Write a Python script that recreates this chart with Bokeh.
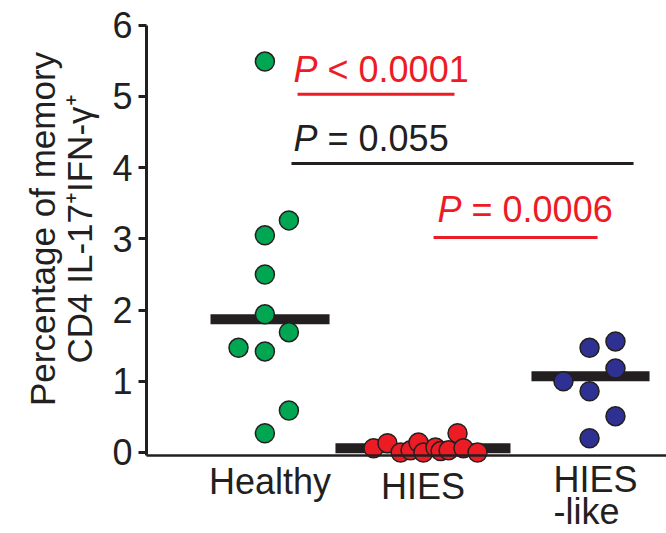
from math import pi
from bokeh.plotting import figure
from bokeh.models import Range1d, FixedTicker, LinearAxis
from bokeh.core.properties import value
from bokeh.embed import file_html
from bokeh.resources import INLINE

# ---- data ----
categories = ["Healthy", "HIES", "HIES\n-like"]
category_x = [0.772, 1.728, 2.544]
category_align = ["center", "center", "left"]
category_y = [-0.408, -0.478, -0.38]
category_line_step = 0.45

healthy_x = [0.74, 0.89, 0.74, 0.74, 0.74, 0.89, 0.575, 0.74, 0.89, 0.74]
healthy_y = [5.49, 3.26, 3.05, 2.50, 1.94, 1.69, 1.47, 1.42, 0.59, 0.27]

hies_x = [1.419, 1.506, 1.588, 1.65, 1.70, 1.731, 1.806, 1.838, 1.888, 1.944, 1.981, 2.069]
hies_y = [0.06, 0.13, 0.0, 0.03, 0.14, 0.0, 0.07, 0.02, 0.03, 0.27, 0.06, 0.0]

like_x = [2.769, 2.931, 2.931, 2.606, 2.769, 2.931, 2.769]
like_y = [1.47, 1.56, 1.18, 1.00, 0.86, 0.51, 0.20]

median_center = [0.772, 1.728, 2.775]
median_half = [0.372, 0.547, 0.369]
median_value = [1.87, 0.06, 1.07]

comp_x0 = [0.944, 0.906, 1.794]
comp_x1 = [1.925, 3.044, 2.819]
comp_y = [5.03, 4.06, 3.02]
comp_text = ["< 0.0001", "= 0.055", "= 0.0006"]
comp_text_x = [0.919, 0.919, 1.819]
comp_text_y = [5.376, 4.406, 3.416]
comp_color = ["#ed1c24", "#231f20", "#ed1c24"]

y_ticks = [0, 1, 2, 3, 4, 5, 6]
y_label_lines = ["Percentage of memory", "CD4 IL-17\u207aIFN-\u03b3\u207a"]
y_label_x = [-0.65, -0.42]
y_label_y = 3.139

INK = "#231f20"
FONT = "Liberation Sans"

p = figure(width=666, height=533, output_backend="svg", toolbar_location=None,
           x_range=Range1d(-0.9125, 3.25), y_range=Range1d(-1.1376, 6.348),
           x_axis_location=None, y_axis_location=None,
           min_border=0, min_border_left=0, min_border_right=0,
           min_border_top=0, min_border_bottom=0)
p.outline_line_color = None
p.grid.grid_line_color = None
p.background_fill_color = "white"
p.border_fill_color = "white"

# y axis (library axis, pinned at x = 0, spanning 0..6)
yax = LinearAxis(ticker=FixedTicker(ticks=y_ticks), fixed_location=0.0, bounds=(-0.04, 6))
yax.axis_line_width = 3
yax.axis_line_color = INK
yax.major_tick_line_width = 3
yax.major_tick_line_color = INK
yax.major_tick_out = 8
yax.major_tick_in = 0
yax.minor_tick_line_color = None
yax.major_label_text_font = FONT
yax.major_label_text_font_size = "36px"
yax.major_label_text_color = INK
yax.major_label_standoff = 6
p.add_layout(yax, "left")

# x axis (library axis, pinned at the base of the y axis)
xax = LinearAxis(ticker=FixedTicker(ticks=[]), fixed_location=-0.04, bounds=(0, 3.25))
xax.axis_line_width = 2.5
xax.axis_line_color = INK
xax.major_tick_line_color = None
xax.minor_tick_line_color = None
xax.major_label_text_alpha = 0
p.add_layout(xax, "below")

# median bars
p.segment(x0=[c - h for c, h in zip(median_center, median_half)],
          x1=[c + h for c, h in zip(median_center, median_half)],
          y0=median_value, y1=median_value, line_width=10, line_color=INK, line_cap="butt")

# points
for xs, ys, col in [(healthy_x, healthy_y, "#00a651"),
                    (hies_x, hies_y, "#ed1c24"),
                    (like_x, like_y, "#2e3192")]:
    p.scatter(x=xs, y=ys, marker="circle", size=19, fill_color=col,
              line_color=INK, line_width=1.5)

# comparison lines and P texts
p.segment(x0=comp_x0, x1=comp_x1, y0=comp_y, y1=comp_y, line_width=3, line_color=comp_color)
p.text(x=comp_text_x, y=comp_text_y, text=["P"] * 3, text_color=comp_color,
       text_font=value(FONT), text_font_size="36px", text_font_style="italic",
       text_align="left", text_baseline="alphabetic")
p.text(x=comp_text_x, y=comp_text_y, text=comp_text, text_color=comp_color, x_offset=34,
       text_font=value(FONT), text_font_size="36px",
       text_align="left", text_baseline="alphabetic")

# category labels (one text per line)
lab_x, lab_y, lab_t, lab_a = [], [], [], []
for lab, cx, cy, al in zip(categories, category_x, category_y, category_align):
    for i, line in enumerate(lab.split("\n")):
        lab_x.append(cx)
        lab_y.append(cy - i * category_line_step)
        lab_t.append(line)
        lab_a.append(al)
p.text(x=lab_x, y=lab_y, text=lab_t, text_color=INK, text_align=lab_a,
       text_font=value(FONT), text_font_size="36px", text_baseline="alphabetic")

# y axis title (two lines, rotated)
p.text(x=y_label_x, y=[y_label_y] * 2, text=y_label_lines, angle=pi / 2,
       text_font=value(FONT), text_font_size="35px", text_color=INK,
       text_align="center", text_baseline="alphabetic")

open("out.html", "w").write(file_html(p, INLINE))
